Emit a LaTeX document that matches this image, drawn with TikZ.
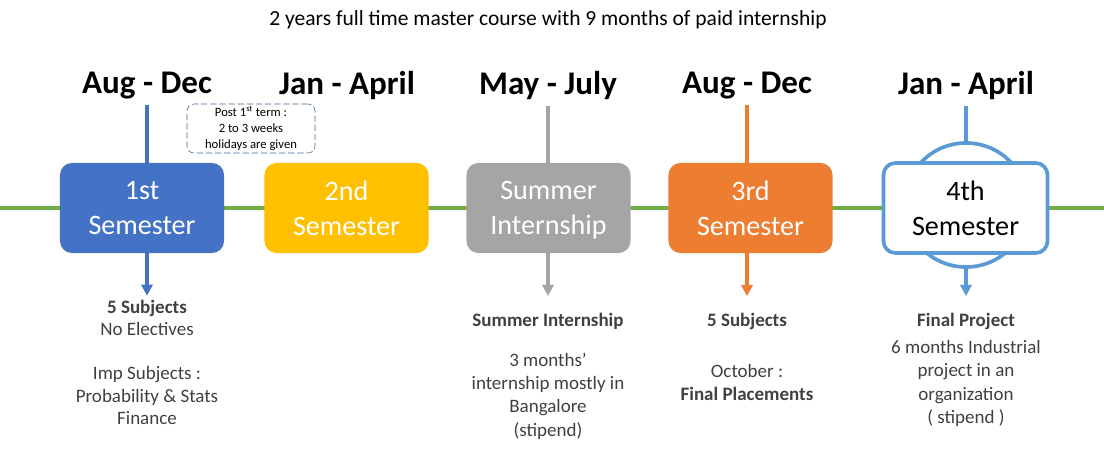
\documentclass[tikz,border=0pt]{standalone}
\usepackage{fontspec}
\setmainfont{Carlito}
\usetikzlibrary{arrows.meta, positioning, shapes.geometric}
\usepackage{xcolor}
\definecolor{lineGreen}{RGB}{112,173,71}
\definecolor{semBlue}{RGB}{68,114,196}
\definecolor{semGold}{RGB}{255,192,0}
\definecolor{semGray}{RGB}{165,165,165}
\definecolor{semOrange}{RGB}{237,125,49}
\definecolor{semSky}{RGB}{91,155,213}
\definecolor{noteBlue}{RGB}{60,100,150}
\definecolor{textGray}{RGB}{64,64,64}

\begin{document}
\begin{tikzpicture}[x=0.025cm, y=-0.025cm,
    sem/.style={rectangle, rounded corners=8.5pt, minimum width=4.1cm, minimum height=2.25cm, align=center, text=white, font=\fontsize{20}{25}\selectfont},
    period/.style={font=\fontsize{23.5}{28}\selectfont\bfseries, inner sep=4pt},
    info/.style={anchor=north, inner sep=0pt, align=center, text=textGray, font=\fontsize{13.5}{16.4}\selectfont},
    link/.style={line width=2.8pt},
    flow/.style={line width=2.8pt, -{Triangle[width=8pt, length=8pt]}}
]
\useasboundingbox (0,0) rectangle (1104,465);

\node[font=\fontsize{15.3}{18}\selectfont] (title) at (548,20) {2 years full time master course with 9 months of paid internship};

% timeline
\draw[lineGreen, line width=2.8pt] (0,208) -- (1104,208);

% periods
\node[period] (p1) at (147,86) {Aug - Dec};
\node[period] (p2) at (347,86) {Jan - April};
\node[period] (p3) at (548,86) {May - July};
\node[period] (p4) at (747,86) {Aug - Dec};
\node[period] (p5) at (966,86) {Jan - April};

% semesters
\node[sem, fill=semBlue] (sem1) at (142,208) {1st\\Semester};
\node[sem, fill=semGold] (sem2) at (346.5,208) {2nd\\Semester};
\node[sem, fill=semGray] (summer) at (548.5,208) {Summer\\\smash{Internship}};
\node[sem, fill=semOrange] (sem3) at (750.5,208) {3rd\\Semester};
\node[circle, draw=semSky, line width=2.6pt, fill=white, minimum size=3.1cm] (ring) at (966,205) {};
\node[sem, draw=semSky, line width=2.6pt, fill=white, text=black] (sem4) at (965.5,208) {4th\\Semester};

\node[rectangle, draw=noteBlue, dash pattern=on 4.5pt off 2pt, rounded corners=5pt, minimum width=3.2cm, minimum height=1.225cm, align=center, inner sep=1pt, font=\fontsize{9}{11.4}\selectfont] (note) at (251,128.5) {Post 1\textsuperscript{st} term :\\2 to 3 weeks\\holidays are given};

% details
\node[info, font=\fontsize{13.5}{15.8}\selectfont] (info1) at (147,300) {\textbf{5 Subjects}\\No Electives\\[15.6pt]Imp Subjects :\\Probability \& Stats\\Finance};
\node[info, font=\fontsize{13.5}{16.6}\selectfont] (info3) at (548,313) {\textbf{Summer Internship}\\[11.5pt]3 months’\\internship mostly in\\Bangalore\\(stipend)};
\node[info] (info4) at (747,313) {\textbf{5 Subjects}\\[19.5pt]October :\\\textbf{Final Placements}};
\node[info] (info5) at (966,313) {\textbf{Final Project}\\[3pt]6 months Industrial\\project in an\\organization\\( stipend )};

% connectors
\draw[link, semBlue] (p1.south) -- (p1.south |- sem1.north);
\draw[flow, semBlue] (p1.south |- sem1.south) -- ([yshift=3pt]info1.north);
\draw[link, semGray] (p3.south) -- (p3.south |- summer.north);
\draw[flow, semGray] (p3.south |- summer.south) -- ([yshift=12pt]info3.north);
\draw[link, semOrange] (p4.south) -- (p4.south |- sem3.north);
\draw[flow, semOrange] (p4.south |- sem3.south) -- ([yshift=12pt]info4.north);
\draw[link, semSky] (p5) -- (ring);
\draw[flow, semSky] (ring) -- ([yshift=12pt]info5.north);
\end{tikzpicture}
\end{document}
